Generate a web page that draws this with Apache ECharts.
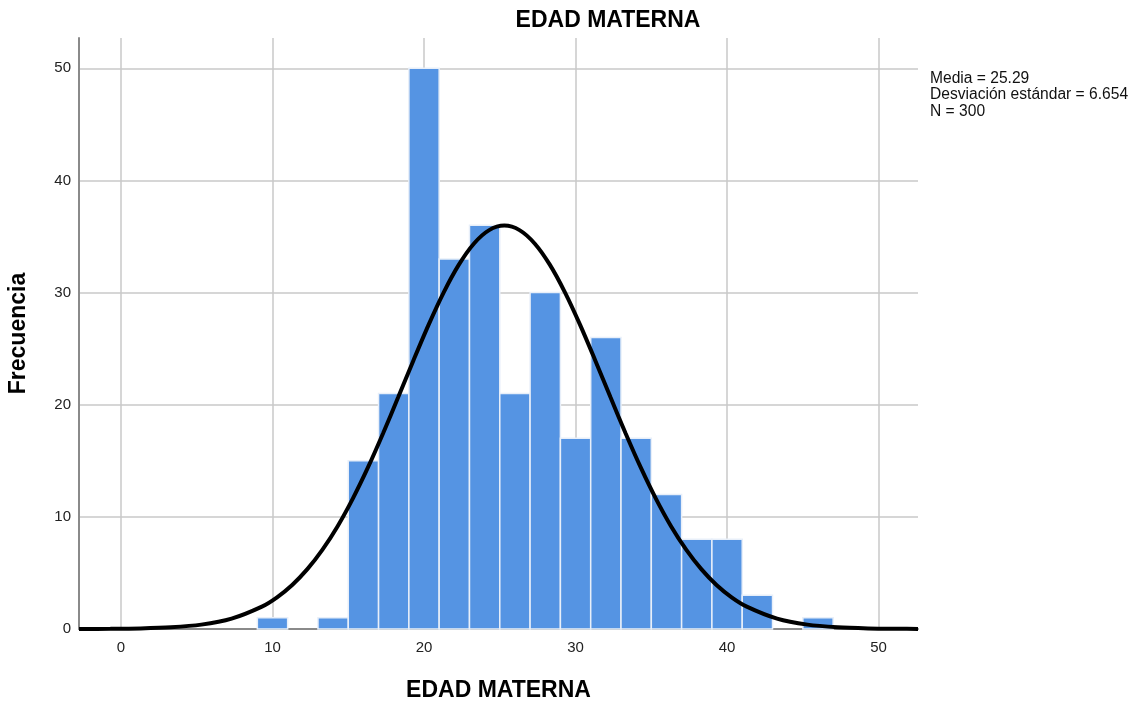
<!DOCTYPE html>
<html><head><meta charset="utf-8">
<script src="https://cdn.jsdelivr.net/npm/echarts@6/dist/echarts.min.js"></script>
<style>html,body{margin:0;padding:0;background:#fff}#c{width:1145px;height:704px}</style>
</head><body><div id="c"></div>
<script>
// Histogram bins (start, end) and counts
const binStarts = [9, 13, 15, 17, 19, 21, 23, 25, 27, 29, 31, 33, 35, 37, 39, 41, 45];
const binWidth = 2;
const counts = [1, 1, 15, 21, 50, 33, 36, 21, 30, 17, 26, 17, 12, 8, 8, 3, 1];
// Normal curve points
const curveX = [-2.77, -0.7, 1.3, 3.3, 5.3, 7.3, 9.3, 10.3, 11.3, 12.3, 13.3, 14.3, 15.3, 16.3, 17.3, 18.3, 19.3, 20.3, 21.3, 22.3, 23.3, 24.3, 25.3, 26.3, 27.3, 28.3, 29.3, 30.3, 31.3, 32.3, 33.3, 34.3, 35.3, 36.3, 37.3, 38.3, 39.3, 40.3, 41.3, 43.3, 45.3, 47.3, 49.3, 51.3, 52.6];
const curveY = [0.004, 0.017, 0.054, 0.152, 0.39, 0.93, 2.0, 2.83, 3.93, 5.34, 7.08, 9.17, 11.63, 14.41, 17.46, 20.68, 23.95, 27.12, 30.02, 32.49, 34.38, 35.57, 35.97, 35.57, 34.38, 32.49, 30.02, 27.12, 23.95, 20.68, 17.46, 14.41, 11.63, 9.17, 7.08, 5.34, 3.93, 2.83, 2.0, 0.93, 0.39, 0.152, 0.054, 0.017, 0.008];
const xTicks = [0, 10, 20, 30, 40, 50];
const yTicks = [0, 10, 20, 30, 40, 50];
const statsLines = ['Media = 25.29', 'Desviación estándar = 6.654', 'N = 300'];

const histData = binStarts.map((s, i) => [s, s + binWidth, counts[i]]);
const curveData = curveX.map((x, i) => [x, curveY[i]]);

const FONT = 'Liberation Sans, Arial, sans-serif';
const chart = echarts.init(document.getElementById('c'));
chart.setOption({
  animation: false,
  textStyle: { fontFamily: FONT },
  graphic: [{
    type: 'text', x: 608, y: 21,
    style: { text: 'EDAD MATERNA', x: 0, y: 0, align: 'center', verticalAlign: 'middle',
      font: 'bold 23px ' + FONT, fill: '#000' }
  }, {
    type: 'text', x: 930, y: 70,
    style: { text: statsLines.join('\n'), x: 0, y: 0, align: 'left', verticalAlign: 'top',
      font: '15.6px ' + FONT, lineHeight: 16.5, fill: '#111' }
  }],
  grid: { left: 79, right: 227, top: 38, bottom: 75, outerBoundsMode: 'none' },
  xAxis: {
    type: 'value', min: -2.77, max: 52.6,
    name: 'EDAD MATERNA', nameLocation: 'middle', nameGap: 50,
    nameTextStyle: { fontSize: 23, fontWeight: 'bold', color: '#000', fontFamily: FONT },
    axisLine: { show: true, onZero: false, lineStyle: { color: '#8a8a8a', width: 2 } },
    axisTick: { show: false, customValues: xTicks },
    axisLabel: { customValues: xTicks, color: '#222', fontSize: 15, margin: 11 },
    splitLine: { show: true, lineStyle: { color: '#c8c8c8', width: 1.5 } }
  },
  yAxis: {
    type: 'value', min: 0, max: 52.7,
    name: 'Frecuencia', nameLocation: 'middle', nameGap: 49, nameRotate: 90,
    nameTextStyle: { fontSize: 23, fontWeight: 'bold', color: '#000', fontFamily: FONT },
    axisLine: { show: true, onZero: false, lineStyle: { color: '#8a8a8a', width: 2 } },
    axisTick: { show: false, customValues: yTicks },
    axisLabel: { customValues: yTicks, color: '#222', fontSize: 15, margin: 8 },
    splitLine: { show: true, lineStyle: { color: '#c8c8c8', width: 1.5 } }
  },
  series: [{
    type: 'custom',
    data: histData,
    encode: { x: [0, 1], y: 2 },
    renderItem: function (params, api) {
      const p0 = api.coord([api.value(0), api.value(2)]);
      const p1 = api.coord([api.value(1), 0]);
      return {
        type: 'rect',
        shape: { x: p0[0], y: p0[1], width: p1[0] - p0[0], height: p1[1] - p0[1] },
        style: { fill: '#5594e3', stroke: '#e8eff9', lineWidth: 1.5 }
      };
    },
    z: 2
  }, {
    type: 'line',
    data: curveData,
    smooth: 0.3,
    showSymbol: false,
    lineStyle: { color: '#000', width: 4 },
    z: 3
  }]
});
</script>
</body></html>
